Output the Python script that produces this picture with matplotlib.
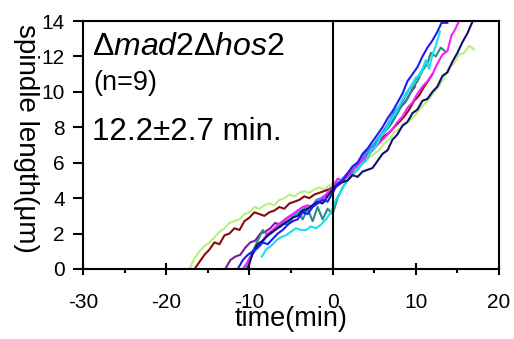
import matplotlib
matplotlib.use('Agg')
import matplotlib.pyplot as plt

plt.rcParams['font.family'] = ['Liberation Sans', 'DejaVu Sans']
plt.rcParams['mathtext.fontset'] = 'custom'
plt.rcParams['mathtext.rm'] = 'Liberation Sans'
plt.rcParams['mathtext.it'] = 'Liberation Sans:italic'

x_ticks = [-30, -20, -10, 0, 10, 20]
x_minor = [-30, -25, -20, -15, -10, -5, 0, 5, 10, 15, 20]
x_ticklabels = ['-30', '-20', '-10', '0', '10', '20']
y_ticks = [0, 2, 4, 6, 8, 10, 12, 14]
y_ticklabels = ['0', '2', '4', '6', '8', '10', '12', '14']

# light green
lg_t = [-17.2, -16.6, -16.0, -15.4, -14.8, -14.2, -13.6, -13.0, -12.4, -11.8,
        -11.2, -10.6, -10.0, -9.4, -8.8, -8.2, -7.6, -7.0, -6.4, -5.8,
        -5.2, -4.6, -4.0, -3.4, -2.8, -2.2, -1.6, -1.0, -0.4, 0.2,
        0.8, 1.4, 2.0, 2.6, 3.2, 3.8, 4.4, 5.0, 5.6, 6.2,
        6.8, 7.4, 8.0, 8.6, 9.2, 9.8, 10.4, 11.0, 11.6, 12.2,
        12.8, 13.4, 14.0, 14.6, 15.2, 15.8, 16.4, 17.0]
lg_y = [0.0, 0.6, 1.0, 1.3, 1.5, 1.8, 2.1, 2.3, 2.6, 2.7,
        2.8, 3.1, 3.2, 3.5, 3.4, 3.6, 3.7, 3.6, 3.9, 4.0,
        4.2, 4.1, 4.3, 4.4, 4.3, 4.5, 4.6, 4.5, 4.7, 4.9,
        5.0, 5.1, 5.3, 5.6, 5.8, 6.0, 6.3, 6.5, 6.7, 7.1,
        7.3, 7.7, 7.9, 8.1, 8.4, 8.6, 9.0, 9.3, 9.6, 10.0,
        10.3, 10.8, 11.4, 11.6, 12.1, 12.2, 12.6, 12.4]

# dark red
dr_t = [-16.6, -16.0, -15.4, -14.8, -14.2, -13.6, -13.0, -12.4, -11.8, -11.2,
        -10.6, -10.0, -9.4, -8.8, -8.2, -7.6, -7.0, -6.4, -5.8, -5.2,
        -4.6, -4.0, -3.4, -2.8, -2.2, -1.6, -1.0, -0.4, 0.2, 0.8,
        1.4, 2.0, 2.6, 3.2, 3.8, 4.4, 5.0, 5.6, 6.2, 6.8,
        7.4, 8.0, 8.6, 9.2, 9.8, 10.4, 11.0, 11.6, 12.0]
dr_y = [0.0, 0.4, 0.8, 1.1, 1.5, 1.4, 1.9, 2.0, 2.3, 2.2,
        2.7, 2.9, 3.2, 3.1, 3.0, 3.2, 3.3, 3.5, 3.4, 3.7,
        3.8, 3.9, 4.1, 4.0, 4.2, 4.3, 4.4, 4.5, 4.7, 4.9,
        5.2, 5.5, 5.8, 6.1, 6.4, 6.6, 6.9, 7.2, 7.5, 7.7,
        8.0, 8.3, 8.6, 9.0, 9.5, 9.8, 10.3, 10.7, 11.0]

# purple
pu_t = [-12.9, -12.3, -11.7, -11.1, -10.5, -9.9, -9.3, -8.7, -8.1, -7.5,
        -6.9, -6.3, -5.7, -5.1, -4.5, -3.9, -3.3, -2.7, -2.1, -1.5,
        -0.9, -0.3, 0.3, 0.9, 1.5, 2.1, 2.7, 3.3, 3.9, 4.5,
        5.1, 5.7, 6.3, 6.9, 7.5, 8.1, 8.7, 9.3, 9.9]
pu_y = [0.0, 0.5, 0.7, 0.8, 1.2, 1.5, 1.6, 2.0, 2.1, 2.3,
        2.6, 2.5, 2.8, 3.0, 3.1, 3.3, 3.2, 3.5, 3.7, 3.9,
        4.1, 4.3, 4.6, 4.8, 5.1, 5.4, 5.8, 6.1, 6.5, 6.8,
        7.1, 7.5, 7.8, 8.2, 8.6, 9.1, 9.4, 9.9, 10.3]

# magenta
mg_t = [-10.8, -10.2, -9.6, -9.0, -8.4, -7.8, -7.2, -6.6, -6.0, -5.4,
        -4.8, -4.2, -3.6, -3.0, -2.4, -1.8, -1.2, -0.6, 0.0, 0.6,
        1.2, 1.8, 2.4, 3.0, 3.6, 4.2, 4.8, 5.4, 6.0, 6.6,
        7.2, 7.8, 8.4, 9.0, 9.6, 10.2, 10.8, 11.4, 12.0, 12.6,
        13.2, 13.8, 14.3, 14.7, 15.1]
mg_y = [0.0, 0.4, 0.9, 1.3, 1.6, 2.0, 2.2, 2.5, 2.7, 2.9,
        3.1, 3.3, 3.5, 3.6, 3.5, 3.8, 4.0, 4.3, 4.6, 5.1,
        5.0, 5.3, 5.6, 5.8, 6.2, 6.4, 6.7, 7.0, 7.3, 7.6,
        7.9, 8.3, 8.6, 9.1, 9.4, 9.9, 10.3, 10.6, 11.0, 11.6,
        12.1, 12.3, 13.2, 13.5, 13.9]

# teal
te_t = [-10.6, -10.0, -9.4, -8.8, -8.4, -7.8, -7.2, -6.6, -6.0, -5.4,
        -4.8, -4.2, -3.6, -3.0, -2.4, -1.8, -1.2, -0.6, 0.0, 0.6,
        1.2, 1.8, 2.4, 3.0, 3.6, 4.2, 4.8, 5.4, 6.0, 6.6,
        7.2, 7.8, 8.4, 9.0, 9.6, 10.2, 10.8, 11.4, 11.8, 12.4,
        13.0, 13.5]
te_y = [0.0, 0.6, 1.2, 1.8, 2.2, 1.9, 2.2, 2.4, 2.6, 2.5,
        2.9, 3.3, 2.8, 3.4, 2.7, 3.5, 2.8, 3.4, 3.1, 4.0,
        4.6, 5.0, 5.4, 5.6, 6.0, 6.3, 6.8, 7.2, 7.6, 7.9,
        8.3, 8.8, 9.3, 9.6, 10.2, 10.6, 11.2, 11.6, 12.2, 12.0,
        12.5, 12.3]

# cyan
cy_t = [-8.5, -8.0, -7.4, -6.8, -6.2, -5.6, -5.0, -4.4, -3.8, -3.2,
        -2.6, -2.0, -1.4, -0.8, -0.2, 0.4, 1.0, 1.6, 2.2, 2.8,
        3.4, 4.0, 4.6, 5.2, 5.8, 6.4, 7.0, 7.6, 8.2, 8.8,
        9.4, 10.0, 10.6, 11.2, 11.6, 12.0, 12.4, 12.9]
cy_y = [0.7, 1.1, 1.3, 1.6, 1.8, 1.9, 2.1, 2.3, 2.2, 2.2,
        2.4, 2.3, 2.5, 2.8, 3.2, 3.9, 4.4, 4.9, 5.2, 5.5,
        5.9, 6.1, 6.7, 6.9, 7.5, 7.8, 8.4, 8.8, 9.4, 9.9,
        10.3, 10.8, 11.0, 11.8, 11.3, 12.1, 12.6, 13.4]

# deep sky blue
sb_t = [-10.4, -9.8, -9.2, -8.6, -8.0, -7.4, -6.8, -6.2, -5.6, -5.0,
        -4.4, -3.8, -3.2, -2.6, -2.0, -1.4, -0.8, -0.2, 0.4, 1.0,
        1.6, 2.2, 2.8, 3.4, 4.0, 4.6, 5.2, 5.8, 6.4, 7.0,
        7.6, 8.2, 8.8, 9.4, 10.0, 10.6, 11.2]
sb_y = [0.0, 0.7, 1.1, 1.4, 1.8, 2.0, 2.3, 2.4, 2.8, 3.0,
        3.1, 3.3, 3.5, 3.4, 3.9, 4.0, 4.2, 4.5, 4.8, 5.0,
        5.3, 5.5, 5.9, 6.2, 6.5, 6.8, 7.2, 7.6, 8.0, 8.5,
        9.0, 9.3, 9.8, 10.3, 10.7, 11.1, 11.6]

# blue
bl_t = [-11.4, -10.8, -10.2, -9.6, -9.0, -8.4, -7.8, -7.2, -6.6, -6.0,
        -5.4, -4.8, -4.2, -3.6, -3.0, -2.4, -1.8, -1.2, -0.6, 0.0,
        0.6, 1.2, 1.8, 2.4, 3.0, 3.6, 4.2, 4.8, 5.4, 6.0,
        6.6, 7.2, 7.8, 8.4, 9.0, 9.6, 10.2, 10.8, 11.4, 12.0,
        12.6, 13.1, 13.8]
bl_y = [0.0, 0.5, 0.8, 1.0, 1.2, 1.5, 1.4, 1.7, 2.0, 2.2,
        2.5, 2.7, 2.8, 3.2, 3.1, 3.5, 3.7, 3.9, 3.8, 4.3,
        4.8, 5.0, 5.4, 5.8, 6.0, 6.5, 6.8, 7.2, 7.6, 8.0,
        8.5, 8.9, 9.4, 9.9, 10.6, 11.0, 11.4, 12.0, 12.5, 12.9,
        13.4, 13.9, 13.9]

# navy
nv_t = [-10.2, -9.6, -9.0, -8.4, -7.8, -7.2, -6.6, -6.0, -5.4, -4.8,
        -4.2, -3.6, -3.0, -2.4, -1.8, -1.2, -0.6, 0.0, 0.6, 1.2,
        1.8, 2.4, 3.0, 3.6, 4.2, 4.8, 5.4, 6.0, 6.6, 7.2,
        7.8, 8.4, 9.0, 9.6, 10.2, 10.8, 11.4, 12.0, 12.6, 13.2,
        13.8, 14.4, 15.0, 15.6, 16.2, 16.8]
nv_y = [0.0, 0.9, 1.4, 1.6, 1.9, 2.1, 2.3, 2.5, 2.7, 2.9,
        3.0, 3.3, 3.4, 3.6, 3.8, 3.7, 4.1, 4.5, 4.8, 4.9,
        5.0, 5.3, 5.2, 5.5, 5.6, 5.7, 6.1, 6.5, 6.7, 7.3,
        7.6, 8.1, 8.3, 8.8, 9.0, 9.5, 9.6, 10.0, 10.3, 10.9,
        11.1, 11.7, 12.2, 12.8, 13.3, 13.95]

cells = [
    (lg_t, lg_y, '#b8f07c'),
    (dr_t, dr_y, '#8b0a0a'),
    (pu_t, pu_y, '#7a1aa0'),
    (te_t, te_y, '#2a8a8a'),
    (sb_t, sb_y, '#1ea8e8'),
    (mg_t, mg_y, '#ff1aff'),
    (cy_t, cy_y, '#19e0f0'),
    (nv_t, nv_y, '#10106e'),
    (bl_t, bl_y, '#1a1aff'),
]

fig = plt.figure(figsize=(5.14, 3.39), dpi=100)
ax = fig.add_axes([0.1615, 0.2065, 0.8093, 0.7315])

for t, y, c in cells:
    ax.plot(t, y, color=c, lw=1.5)

ax.axvline(0, color='black', lw=1.5)

ax.set_xlim(-30, 20)
ax.set_ylim(0, 14)
ax.set_xticks(x_ticks)
ax.set_xticklabels(x_ticklabels, fontsize=15)
ax.set_xticks(x_minor, minor=True)
ax.set_yticks(y_ticks)
ax.set_yticklabels(y_ticklabels, fontsize=15)
for s in ax.spines.values():
    s.set_linewidth(1.5)
ax.tick_params(axis='x', which='major', direction='inout', length=8.5, width=1.5, pad=13)
ax.tick_params(axis='x', which='minor', direction='out', length=3, width=1.5)
ax.tick_params(axis='y', which='major', direction='out', length=7, width=1.5, pad=6)

ax.set_xlabel('time(min)', fontsize=19.5, labelpad=-4)
ax.set_ylabel('spindle length(μm)', fontsize=20, rotation=270, ha='center', va='center')
ax.yaxis.set_label_coords(-0.138, 0.528)

ax.text(0.022, 0.863, r'$\Delta\mathit{mad2}\Delta\mathit{hos2}$', transform=ax.transAxes,
        fontsize=23, va='baseline')
ax.text(0.024, 0.722, '(n=9)', transform=ax.transAxes, fontsize=19.5, va='baseline')
ax.text(0.022, 0.52, '12.2±2.7 min.', transform=ax.transAxes, fontsize=22.5, va='baseline')

fig.savefig('out.png', dpi=100)
